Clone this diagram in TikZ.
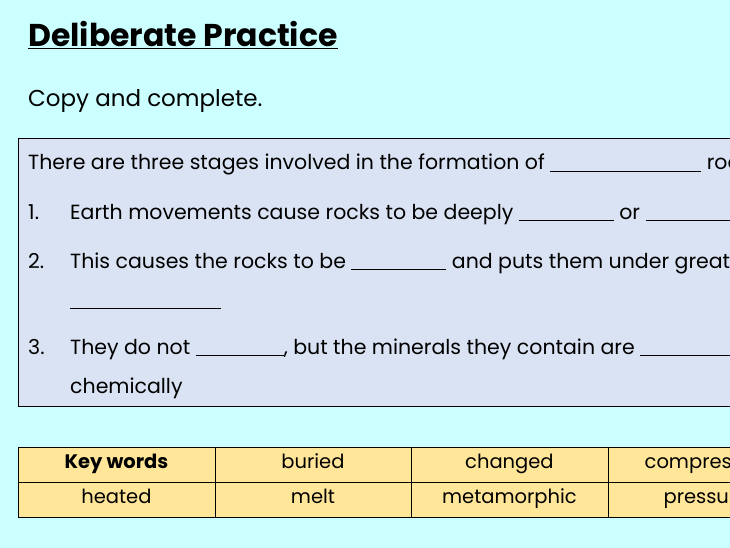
\documentclass[tikz,border=0pt]{standalone}
\usepackage{fontspec}
\setmainfont{Poppins}
\definecolor{SkyBg}{RGB}{204, 255, 255}
\definecolor{BoxBlue}{RGB}{218, 227, 243}
\definecolor{KeyGold}{RGB}{255, 230, 153}
\newcommand{\gapline}[1]{\rule[-1.5pt]{#1pt}{0.7pt}}
\begin{document}
\begin{tikzpicture}[
            x=1pt, y=-1pt,
            txt/.style={anchor=base west, inner sep=0pt, font=\fontsize{20.5}{24}\selectfont},
            cell/.style={draw, fill=KeyGold, minimum width=196.5pt, minimum height=35pt,
                        anchor=north west, inner sep=0pt, text height=13pt, text depth=5pt,
                        font=\fontsize{19.5}{23}\selectfont}
        ]
            \clip (0,0) rectangle (730,548);
            \fill[SkyBg] (0,0) rectangle (730,548);

            \node[txt, font=\fontsize{31.5}{36}\selectfont\bfseries] (title) at (28,47) {\underline{Deliberate Practice}};
            \node[txt, font=\fontsize{23}{27}\selectfont] (copy) at (28,107) {Copy and complete.};

            \draw[fill=BoxBlue] (18,138) rectangle (800,406);
            \node[txt] (intro) at (28,170) {There are three stages involved in the formation of \gapline{151} rocks};
            \node[txt] (n1) at (28,219) {1.};
            \node[txt] (s1) at (70,219) {Earth movements cause rocks to be deeply \gapline{95} or \gapline{95}};
            \node[txt] (n2) at (28,268) {2.};
            \node[txt] (s2) at (70,268) {This causes the rocks to be \gapline{95} and puts them under great};
            \node[txt] (s2b) at (70,307) {\gapline{151}};
            \node[txt] (n3) at (28,354) {3.};
            \node[txt] (s3) at (70,354) {They do not \gapline{88}, but the minerals they contain are \gapline{95}};
            \node[txt] (s3b) at (70,393) {chemically};

            \node[cell, font=\fontsize{19.5}{23}\selectfont\bfseries] (kw) at (18,447) {Key words};
            \node[cell] (buried) at (214.5,447) {buried};
            \node[cell] (changed) at (411,447) {changed};
            \node[cell] (compressed) at (607.5,447) {compressed};
            \node[cell] (heated) at (18,482) {heated};
            \node[cell] (melt) at (214.5,482) {melt};
            \node[cell] (meta) at (411,482) {metamorphic};
            \node[cell] (pressure) at (607.5,482) {pressure};
        \end{tikzpicture}
\end{document}
